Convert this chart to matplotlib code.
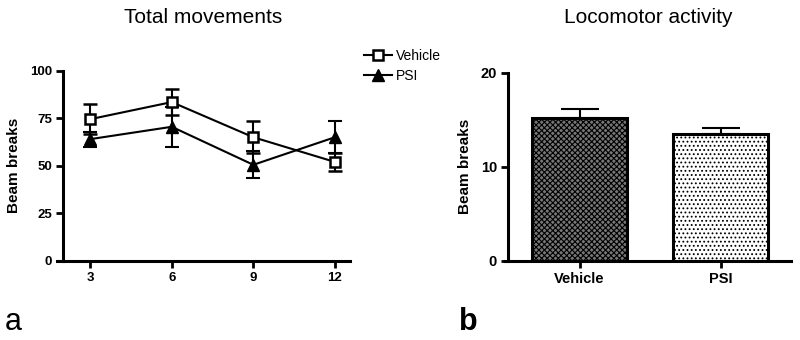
import matplotlib
matplotlib.use("Agg")
import matplotlib.pyplot as plt
from matplotlib.lines import Line2D

plt.rcParams['font.family'] = ['Liberation Sans', 'DejaVu Sans']
plt.rcParams['hatch.linewidth'] = 0.8

# Total movements over time (mean ± SEM)
time_points = [3, 6, 9, 12]
vehicle_mean = [74.5, 83.5, 65.0, 52.0]
vehicle_sem = [8.0, 7.0, 8.5, 4.5]
psi_mean = [64.0, 70.5, 50.5, 65.0]
psi_sem = [4.0, 10.5, 7.0, 8.5]

# Locomotor activity (mean ± SEM)
groups = ["Vehicle", "PSI"]
loco_mean = [15.2, 13.5]
loco_sem = [0.9, 0.6]

fig = plt.figure(figsize=(8, 3.4), dpi=100)

def style_axes(ax, size):
    for side in ("top", "right"):
        ax.spines[side].set_visible(False)
    for side in ("left", "bottom"):
        ax.spines[side].set_linewidth(2.2)
    ax.tick_params(width=2, length=5, direction="out", labelsize=size, pad=3)
    for lab in ax.get_xticklabels() + ax.get_yticklabels():
        lab.set_fontweight("bold")

# Panel a: line chart
ax1 = fig.add_axes([0.0713, 0.233, 0.366, 0.559])
vehicle_style = dict(color="black", marker="s", markersize=7,
                     markerfacecolor="white", markeredgewidth=1.8,
                     linewidth=1.5)
psi_style = dict(color="black", marker="^", markersize=9,
                 markerfacecolor="black", linewidth=1.5)
ax1.errorbar(time_points, vehicle_mean, yerr=vehicle_sem, capsize=5,
             capthick=1.5, elinewidth=1.5, zorder=3, **vehicle_style)
ax1.errorbar(time_points, psi_mean, yerr=psi_sem, capsize=5,
             capthick=1.5, elinewidth=1.5, zorder=3, **psi_style)
ax1.set_xlim(1.78, 12.55)
ax1.spines["left"].set_position(("data", 2.0))
ax1.set_ylim(0, 100)
ax1.set_xticks(time_points)
ax1.set_yticks([0, 25, 50, 75, 100])
ax1.set_ylabel("Beam breaks", fontsize=11, fontweight="bold", labelpad=6)
ax1.set_title("Total movements", fontsize=15, pad=34)
style_axes(ax1, 9.5)
handles = [Line2D([], [], **vehicle_style), Line2D([], [], **psi_style)]
ax1.legend(handles, ["Vehicle", "PSI"], loc="upper left",
           bbox_to_anchor=(1.03, 1.146), frameon=False, fontsize=10,
           handlelength=2.0, handletextpad=0.3, labelspacing=0.45,
           borderaxespad=0)

# Panel b: bar chart
ax2 = fig.add_axes([0.631, 0.233, 0.358, 0.553])
xpos = list(range(len(groups)))
bars = ax2.bar(xpos, loco_mean, width=0.67, color="white",
               edgecolor="black", linewidth=2.2, zorder=2)
bars[0].set_facecolor("#777777")
bars[0].set_hatch("xxxxxx")
bars[1].set_hatch("....")
ax2.errorbar(xpos, loco_mean, yerr=[[0, 0], loco_sem], fmt="none",
             ecolor="black", elinewidth=1.5, capsize=14, capthick=1.5,
             zorder=1)
ax2.set_xlim(-0.53, 1.5)
ax2.spines["left"].set_position(("data", -0.506))
ax2.set_ylim(0, 20)
ax2.set_xticks(xpos)
ax2.set_xticklabels(groups)
ax2.set_yticks([0, 10, 20])
ax2.set_ylabel("Beam breaks", fontsize=11, fontweight="bold", labelpad=6)
ax2.set_title("Locomotor activity", fontsize=15, pad=36)
style_axes(ax2, 10.5)

fig.text(0.006, 0.03, "a", fontsize=22)
fig.text(0.574, 0.03, "b", fontsize=22, fontweight="bold")

fig.savefig("out.png", dpi=100, facecolor="white")
